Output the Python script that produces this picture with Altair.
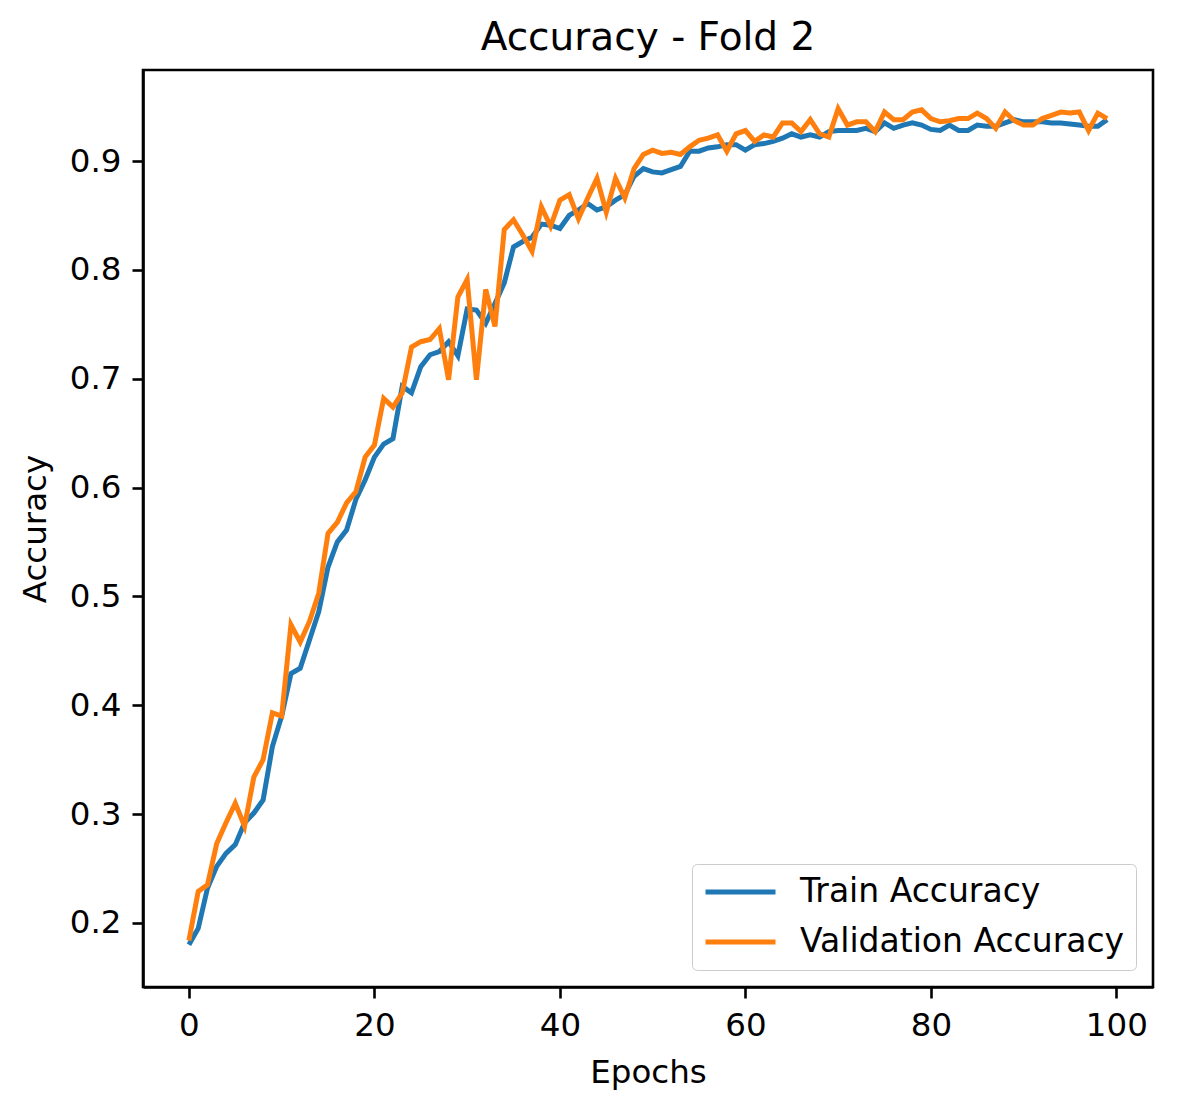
import altair as alt
import pandas as pd

epochs = list(range(100))

train_acc = [
    0.180, 0.195, 0.232, 0.252, 0.264, 0.272, 0.292, 0.301, 0.313, 0.362,
    0.390, 0.429, 0.434, 0.460, 0.486, 0.527, 0.550, 0.561, 0.589, 0.607,
    0.628, 0.640, 0.645, 0.693, 0.687, 0.711, 0.722, 0.725, 0.734, 0.721,
    0.764, 0.763, 0.751, 0.769, 0.788, 0.821, 0.826, 0.830, 0.842, 0.841,
    0.838, 0.850, 0.855, 0.861, 0.855, 0.858, 0.864, 0.869, 0.886, 0.893,
    0.890, 0.889, 0.892, 0.895, 0.909, 0.909, 0.912, 0.913, 0.915, 0.915,
    0.910, 0.915, 0.916, 0.918, 0.921, 0.925, 0.922, 0.924, 0.922, 0.927,
    0.928, 0.928, 0.928, 0.930, 0.927, 0.935, 0.930, 0.933, 0.935, 0.933,
    0.929, 0.928, 0.933, 0.928, 0.928, 0.933, 0.932, 0.932, 0.935, 0.938,
    0.936, 0.936, 0.936, 0.935, 0.935, 0.934, 0.933, 0.932, 0.932, 0.938,
]

val_acc = [
    0.184, 0.229, 0.235, 0.273, 0.292, 0.310, 0.289, 0.334, 0.350, 0.393,
    0.390, 0.474, 0.458, 0.477, 0.503, 0.558, 0.568, 0.586, 0.596, 0.628,
    0.639, 0.682, 0.674, 0.687, 0.729, 0.734, 0.736, 0.746, 0.699, 0.775,
    0.791, 0.699, 0.782, 0.748, 0.837, 0.846, 0.832, 0.817, 0.858, 0.840,
    0.864, 0.869, 0.847, 0.866, 0.884, 0.853, 0.884, 0.866, 0.893, 0.906,
    0.910, 0.907, 0.908, 0.906, 0.913, 0.919, 0.921, 0.924, 0.909, 0.925,
    0.928, 0.918, 0.924, 0.922, 0.935, 0.935, 0.927, 0.938, 0.925, 0.922,
    0.948, 0.933, 0.936, 0.936, 0.927, 0.945, 0.938, 0.938, 0.945, 0.947,
    0.939, 0.936, 0.937, 0.939, 0.939, 0.944, 0.939, 0.930, 0.945, 0.937,
    0.933, 0.933, 0.939, 0.942, 0.945, 0.944, 0.945, 0.928, 0.944, 0.939,
]

series_names = ["Train Accuracy", "Validation Accuracy"]
series_colors = ["#1f77b4", "#ff7f0e"]
x_ticks = [0, 20, 40, 60, 80, 100]
y_ticks = [0.2, 0.3, 0.4, 0.5, 0.6, 0.7, 0.8, 0.9]

df = pd.DataFrame({
    "epoch": epochs + epochs,
    "acc": train_acc + val_acc,
    "series": [series_names[0]] * len(epochs) + [series_names[1]] * len(epochs),
})

FONT = "DejaVu Sans"

chart = (
    alt.Chart(df)
    .mark_line(strokeWidth=5, clip=True)
    .encode(
        x=alt.X(
            "epoch:Q",
            scale=alt.Scale(domain=[-4.95, 103.95], nice=False, zero=False),
            axis=alt.Axis(values=x_ticks, title="Epochs", format="d", titlePadding=15),
        ),
        y=alt.Y(
            "acc:Q",
            scale=alt.Scale(domain=[0.1412, 0.9836], nice=False, zero=False),
            axis=alt.Axis(values=y_ticks, title="Accuracy", format=".1f", titlePadding=17),
        ),
        color=alt.Color(
            "series:N",
            scale=alt.Scale(domain=series_names, range=series_colors),
            legend=alt.Legend(
                title=None,
                orient="bottom-right",
                offset=17,
                padding=11,
                cornerRadius=5,
                strokeColor="#cccccc",
                fillColor="rgba(255,255,255,0.8)",
                symbolType="stroke",
                symbolSize=4900,
                symbolStrokeWidth=5,
                clipHeight=34,
                labelFontSize=33,
                labelFont=FONT,
                labelColor="black",
                labelOffset=22,
                labelLimit=600,
                rowPadding=16,
            ),
        ),
    )
    .properties(
        width=1010,
        height=917,
        title=alt.TitleParams(
            text="Accuracy - Fold 2",
            font=FONT,
            fontSize=39,
            fontWeight="normal",
            color="black",
            anchor="middle",
            offset=12,
        ),
        padding={"left": 135, "top": 62, "right": 30, "bottom": 116},
        autosize=alt.AutoSizeParams(type="none"),
    )
    .configure_view(stroke="black", strokeWidth=2.6)
    .configure_axis(
        grid=False,
        labelFont=FONT,
        titleFont=FONT,
        labelFontSize=32.5,
        titleFontSize=32.5,
        titleFontWeight="normal",
        labelColor="black",
        titleColor="black",
        tickColor="black",
        domainColor="black",
        tickSize=11,
        tickWidth=2.6,
        domainWidth=2.6,
        labelPadding=11,
    )
)

chart.save("out.html", embed_options={"renderer": "svg", "actions": False})
